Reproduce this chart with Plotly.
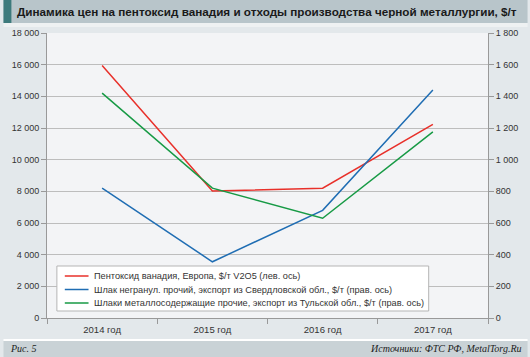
import plotly.graph_objects as go

years = ["2014 год", "2015 год", "2016 год", "2017 год"]
v2o5_europe = [15950, 8020, 8200, 12230]
slag_sverdlovsk = [820, 355, 680, 1440]
slag_tula = [1420, 820, 630, 1175]

names = [
    "Пентоксид ванадия, Европа, $/т V2O5 (лев. ось)",
    "Шлак негранул. прочий, экспорт из Свердловской обл., $/т (прав. ось)",
    "Шлаки металлосодержащие прочие, экспорт из Тульской обл., $/т (прав. ось)",
]
colors = ["#e8302a", "#1f6db3", "#179a45"]
left_ticks = [0, 2000, 4000, 6000, 8000, 10000, 12000, 14000, 16000, 18000]
right_ticks = [0, 200, 400, 600, 800, 1000, 1200, 1400, 1600, 1800]

W, H = 530, 357
L, R, T, B = 44, 490, 33, 318
pw, ph = R - L, B - T


def px(x):
    return (x - L) / pw


def py(y):
    return (B - y) / ph


fig = go.Figure()
fig.add_trace(go.Scatter(x=years, y=v2o5_europe, name=names[0], mode="lines",
                         line=dict(color=colors[0], width=1.5), yaxis="y"))
fig.add_trace(go.Scatter(x=years, y=slag_sverdlovsk, name=names[1], mode="lines",
                         line=dict(color=colors[1], width=1.5), yaxis="y2"))
fig.add_trace(go.Scatter(x=years, y=slag_tula, name=names[2], mode="lines",
                         line=dict(color=colors[2], width=1.5), yaxis="y2"))

shapes = [
    # title bar
    dict(type="rect", xref="paper", yref="paper", x0=px(0), x1=px(W), y0=py(23), y1=py(0),
         fillcolor="#b8c5ca", line=dict(width=0), layer="below"),
    dict(type="rect", xref="paper", yref="paper", x0=px(0), x1=px(8), y0=py(23), y1=py(0),
         fillcolor="#3d7a7c", line=dict(width=0), layer="below"),
    dict(type="rect", xref="paper", yref="paper", x0=px(0), x1=px(W), y0=py(27), y1=py(23),
         fillcolor="#eef1f2", line=dict(width=0), layer="below"),
    # footer
    dict(type="rect", xref="paper", yref="paper", x0=px(0), x1=px(W), y0=py(341), y1=py(339),
         fillcolor="#ffffff", line=dict(width=0), layer="below"),
    dict(type="rect", xref="paper", yref="paper", x0=px(0), x1=px(W), y0=py(H), y1=py(341),
         fillcolor="#c9d2d6", line=dict(width=0), layer="below"),
    # legend box
    dict(type="rect", xref="paper", yref="paper", x0=px(54), x1=px(430), y0=py(311), y1=py(266),
         fillcolor="#ffffff", line=dict(width=1, color="#b5b5b5"), layer="above"),
]

annotations = [
    dict(text="<b>Динамика цен на пентоксид ванадия и отходы производства черной металлургии, $/т</b>",
         xref="paper", yref="paper", x=px(12), y=py(11.5), xanchor="left", yanchor="middle",
         showarrow=False, font=dict(family="Liberation Sans, Arial", size=11.7, color="#1a1a1a")),
    dict(text="Рис. 5", xref="paper", yref="paper", x=px(5), y=py(349), xanchor="left",
         yanchor="middle", showarrow=False,
         font=dict(family="Liberation Serif, Times New Roman", size=10, color="#222", style="italic")),
    dict(text="Источники: ФТС РФ, MetalTorg.Ru", xref="paper", yref="paper", x=px(525), y=py(349),
         xanchor="right", yanchor="middle", showarrow=False,
         font=dict(family="Liberation Serif, Times New Roman", size=10, color="#222", style="italic")),
]

legend_rows = [276, 289.5, 303]
for name, color, ry in zip(names, colors, legend_rows):
    shapes.append(dict(type="line", xref="paper", yref="paper", x0=px(62), x1=px(86),
                       y0=py(ry), y1=py(ry), line=dict(color=color, width=1.5), layer="above"))
    annotations.append(dict(text=name, xref="paper", yref="paper", x=px(90), y=py(ry),
                            xanchor="left", yanchor="middle", showarrow=False,
                            font=dict(family="Liberation Sans, Arial", size=9.2, color="#333")))

fig.update_layout(
    width=W, height=H,
    margin=dict(l=L, r=W - R, t=T, b=H - B, pad=0),
    paper_bgcolor="#e3e8eb",
    plot_bgcolor="#f3f4f6",
    separators=", ",
    font=dict(family="Liberation Sans, Arial", size=9, color="#333"),
    showlegend=False,
    xaxis=dict(type="category", range=[-0.5, 3.5], tickson="boundaries",
               ticks="outside", ticklen=5, tickcolor="#999", showgrid=False,
               showline=True, linecolor="#999", linewidth=1, ticklabelstandoff=3,
               tickfont=dict(size=9.5, color="#333"), fixedrange=True),
    yaxis=dict(range=[0, 18000], tickvals=left_ticks, tickformat=",d",
               ticks="outside", ticklen=5, tickcolor="#999",
               showline=True, linecolor="#999", linewidth=1,
               gridcolor="#bdbdbd", gridwidth=1, zeroline=False,
               tickfont=dict(size=9, color="#333")),
    yaxis2=dict(range=[0, 1800], tickvals=right_ticks, tickformat=",d",
                overlaying="y", side="right",
                ticks="outside", ticklen=5, tickcolor="#999",
                showline=True, linecolor="#999", linewidth=1,
                showgrid=False, zeroline=False,
                tickfont=dict(size=9, color="#333")),
    shapes=shapes,
    annotations=annotations,
)

fig.write_html("out.html", config={"displayModeBar": False},
               post_script="document.body.style.margin='0';document.body.style.overflow='hidden';")
